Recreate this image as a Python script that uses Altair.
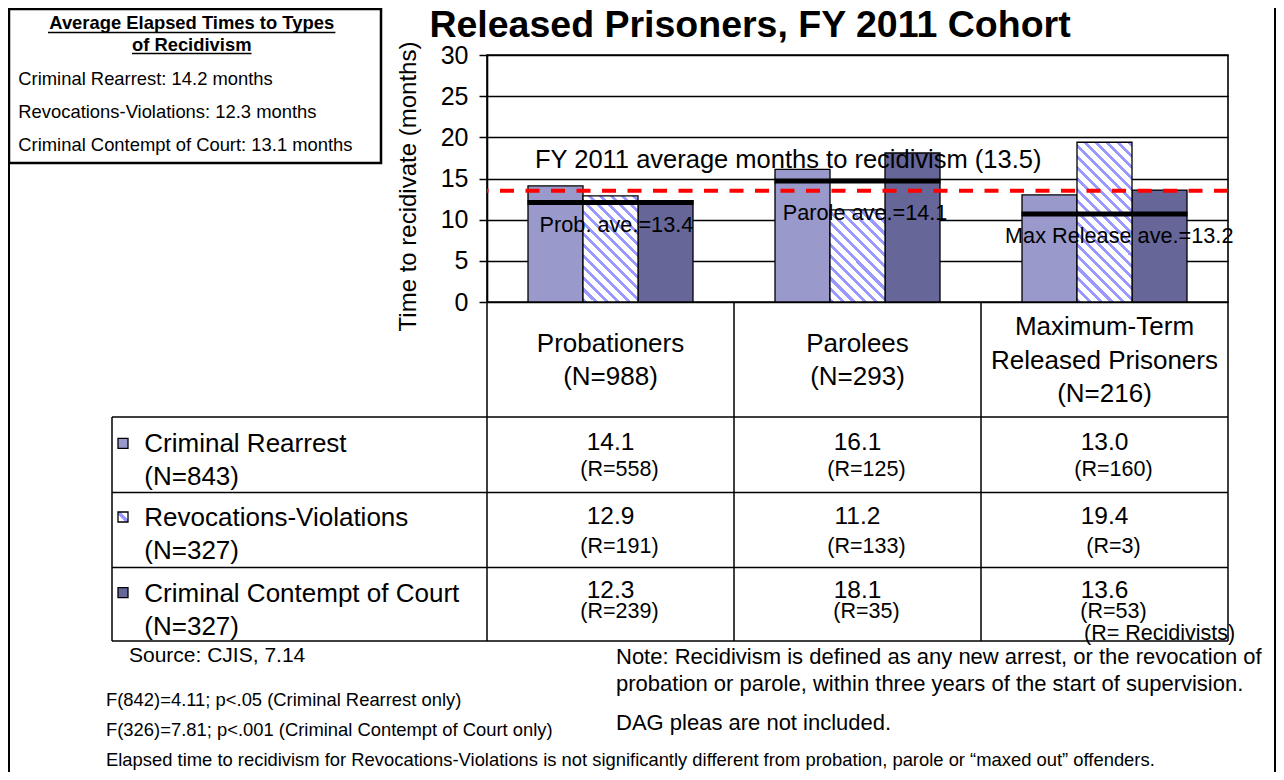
import math
import altair as alt
import pandas as pd

# ---------------- data ----------------
categories = ["Probationers", "Parolees", "Maximum-Term Released Prisoners"]
category_lines = [["Probationers", "(N=988)"],
                  ["Parolees", "(N=293)"],
                  ["Maximum-Term", "Released Prisoners", "(N=216)"]]
series = ["Criminal Rearrest", "Revocations-Violations", "Criminal Contempt of Court"]
series_n = ["(N=843)", "(N=327)", "(N=327)"]
rearrest = [14.1, 16.1, 13.0]
revocations = [12.9, 11.2, 19.4]
contempt = [12.3, 18.1, 13.6]
rearrest_r = ["(R=558)", "(R=125)", "(R=160)"]
revocations_r = ["(R=191)", "(R=133)", "(R=3)"]
contempt_r = ["(R=239)", "(R=35)", "(R=53)"]
ave_line_levels = [12.1, 14.7, 10.7]
ave_labels = ["Prob. ave.=13.4", "Parole ave.=14.1", "Max Release ave.=13.2"]
fy_average = 13.5
fy_label = "FY 2011 average months to recidivism (13.5)"
y_ticks = [0, 5, 10, 15, 20, 25, 30]
title_text = "Released Prisoners, FY 2011 Cohort"
y_title = "Time to recidivate (months)"
box_heading = ["Average Elapsed Times to Types", "of Recidivism"]
box_lines = ["Criminal Rearrest: 14.2 months",
             "Revocations-Violations: 12.3 months",
             "Criminal Contempt of Court: 13.1 months"]
source_text = "Source: CJIS, 7.14"
stat_notes = ["F(842)=4.11; p<.05 (Criminal Rearrest only)",
              "F(326)=7.81; p<.001 (Criminal Contempt of Court only)",
              "Elapsed time to recidivism for Revocations-Violations is not significantly different from probation, parole or \u201cmaxed out\u201d offenders."]
def_notes = ["Note: Recidivism is defined as any new arrest, or the revocation of",
             "probation or parole, within three years of the start of supervision.",
             "DAG pleas are not included."]
r_legend = "(R= Recidivists)"

values_by_series = [rearrest, revocations, contempt]
r_by_series = [rearrest_r, revocations_r, contempt_r]
rows = []
for si, s in enumerate(series):
    for ci, c in enumerate(categories):
        rows.append({"category": c, "series": s,
                     "value": values_by_series[si][ci], "r": r_by_series[si][ci]})
df = pd.DataFrame(rows)
ave_df = pd.DataFrame({"category": categories, "level": ave_line_levels})
fy_df = pd.DataFrame({"fy": [fy_average]})

# ---------------- style ----------------
FONT = "Liberation Sans, Arial, Helvetica, sans-serif"
W, H = 741, 247
YMAX = 30
C_LIGHT, C_DARK, C_HATCH = "#9999CC", "#666699", "#9999FF"
P_IN, P_OUT = 0.332, 0.166
STEP = W / 3
BAND = STEP * (1 - P_IN)
BAR_W = BAND / 3

x_scale = alt.Scale(domain=categories, paddingInner=P_IN, paddingOuter=P_OUT)
y_scale = alt.Scale(domain=[0, YMAX], nice=False, zero=True)
y_axis = alt.Axis(values=y_ticks, title=None, grid=True, gridColor="black",
                  gridWidth=1.5, gridOpacity=1, domain=True, domainColor="black",
                  domainWidth=1.6, ticks=True, tickColor="black", tickSize=8,
                  tickWidth=1.5, labelFont=FONT, labelFontSize=25,
                  labelColor="black", labelPadding=11, labelFlush=False,
                  labelOverlap=False)
x_enc = alt.X("category:N", sort=categories, scale=x_scale, axis=None)
xoff_enc = alt.XOffset("series:N", sort=series,
                       scale=alt.Scale(domain=series, paddingInner=0, paddingOuter=0))
one = alt.Data(values=[{}])


def txt(s, x, y, size, align="left", baseline="alphabetic", **kw):
    return alt.Chart(one).mark_text(text=s, font=FONT, fontSize=size, align=align,
                                    baseline=baseline, color="black", **kw).encode(
        x=alt.value(x), y=alt.value(y))


def rule(x1, y1, x2, y2, w=1.5):
    return alt.Chart(one).mark_rule(color="black", strokeWidth=w).encode(
        x=alt.value(x1), y=alt.value(y1), x2=alt.value(x2), y2=alt.value(y2))


def hatch_gradient(h_px, w_px, period=11.0, band=4.5):
    L = w_px + h_px
    a = L / (w_px ** 2 + h_px ** 2)
    stops = [{"offset": 0, "color": "#FFFFFF"}]
    k = 0
    while k * period < L:
        s = round(k * period / L, 5)
        e = round(min((k * period + band) / L, 1), 5)
        stops += [{"offset": s, "color": "#FFFFFF"}, {"offset": s, "color": C_HATCH},
                  {"offset": e, "color": C_HATCH}, {"offset": e, "color": "#FFFFFF"}]
        k += 1
    stops.append({"offset": 1, "color": "#FFFFFF"})
    return {"gradient": "linear", "x1": 0, "y1": 1,
            "x2": round(a * w_px, 5), "y2": round(1 - a * h_px, 5), "stops": stops}


layers = []

# outer frame and top-left box
layers.append(rule(-478, -47, -478, 717, 2))
layers.append(rule(788, -47, 788, 717, 2))
layers.append(alt.Chart(one).mark_rect(fill="white", stroke="black", strokeWidth=2.5).encode(
    x=alt.value(-478), x2=alt.value(-106), y=alt.value(-46), y2=alt.value(108)))
layers.append(txt(box_heading[0], -295.3, -25.7, 18.4, align="center", fontWeight="bold"))
layers.append(txt(box_heading[1], -295.3, -4, 18.4, align="center", fontWeight="bold"))
layers.append(rule(-439, -22.5, -151.6, -22.5, 1.5))
layers.append(rule(-355.1, -1.5, -235.5, -1.5, 1.5))
for i, line in enumerate(box_lines):
    layers.append(txt(line, -468.7, [29.5, 62.5, 96][i], 18.4))

# title and y title
layers.append(txt(title_text, 263, -18, 37.5, align="center", fontWeight="bold"))
layers.append(txt(y_title, -78, 131.5, 24, align="center", baseline="middle", angle=270))

# bars
layers.append(alt.Chart(df).transform_filter(alt.datum.series != series[1]).mark_bar(
    stroke="black", strokeWidth=1.3).encode(
    x=x_enc, xOffset=xoff_enc,
    y=alt.Y("value:Q", scale=y_scale, axis=y_axis),
    fill=alt.Fill("series:N", scale=alt.Scale(domain=series, range=[C_LIGHT, "#FFFFFF", C_DARK]),
                  legend=None)))
for ci, c in enumerate(categories):
    h_px = revocations[ci] * H / YMAX
    layers.append(alt.Chart(df).transform_filter(
        (alt.datum.series == series[1]) & (alt.datum.category == c)).mark_bar(
        stroke="black", strokeWidth=1.3, fill=hatch_gradient(h_px, BAR_W)).encode(
        x=x_enc, xOffset=xoff_enc,
        y=alt.Y("value:Q", scale=y_scale, axis=y_axis)))

# average lines
layers.append(alt.Chart(ave_df).mark_tick(color="black", opacity=1, thickness=5,
                                          size=BAND + 1).encode(
    x=x_enc, y=alt.Y("level:Q", scale=y_scale, axis=y_axis)))
layers.append(alt.Chart(fy_df).mark_rule(color="#FF0000", strokeWidth=4,
                                         strokeDash=[14, 11.5]).encode(
    y=alt.Y("fy:Q", scale=y_scale, axis=y_axis)))

# plot annotations
layers.append(txt(fy_label, 48, 112.7, 25.5))
layers.append(txt(ave_labels[0], 52.6, 176.7, 21.7))
layers.append(txt(ave_labels[1], 295.8, 165, 21.7))
layers.append(txt(ave_labels[2], 518, 188.3, 21.7))

# table: header row
HDR_FS, HDR_LH = 26, 33.5
for ci, c in enumerate(categories):
    n = len(category_lines[ci])
    y0 = 304.5 - (n - 1) * HDR_LH / 2 + 0.35 * HDR_FS
    layers.append(alt.Chart(pd.DataFrame({"category": [c]})).mark_text(
        text=category_lines[ci], font=FONT, fontSize=HDR_FS, lineHeight=HDR_LH,
        align="center", baseline="alphabetic", color="black").encode(
        x=x_enc, y=alt.value(y0)))

# table: rows
row_first_base = [397.3, 471, 546.7]
val_base = [395, 469, 543.3]
r_base = [421, 498, 563.3]
sq_fill = [C_LIGHT, {"gradient": "linear", "x1": 0, "y1": 1, "x2": 1, "y2": 0,
                     "stops": [{"offset": 0, "color": "#FFFFFF"}, {"offset": 0.38, "color": "#FFFFFF"},
                               {"offset": 0.38, "color": C_HATCH}, {"offset": 0.62, "color": C_HATCH},
                               {"offset": 0.62, "color": "#FFFFFF"}, {"offset": 1, "color": "#FFFFFF"}]},
           C_DARK]
for si, s in enumerate(series):
    layers.append(txt([s, series_n[si]], -342.7, row_first_base[si], 26, lineHeight=33))
    layers.append(alt.Chart(one).mark_square(size=100, fill=sq_fill[si], fillOpacity=1,
                                             stroke="black", strokeWidth=1.3).encode(
        x=alt.value(-364), y=alt.value(row_first_base[si] - 9)))
    sub = alt.Chart(df).transform_filter(alt.datum.series == s)
    layers.append(sub.mark_text(font=FONT, fontSize=24.5, color="black",
                                baseline="alphabetic").encode(
        x=x_enc, y=alt.value(val_base[si]), text=alt.Text("value:Q", format=".1f")))
    layers.append(sub.mark_text(font=FONT, fontSize=21.5, color="black",
                                baseline="alphabetic", dx=9).encode(
        x=x_enc, y=alt.value(r_base[si]), text="r:N"))

# table lines
for yy in [362, 437.5, 512.5, 586]:
    layers.append(rule(-375, yy, W, yy))
layers.append(rule(-375, 362, -375, 586))
for xx in [0, STEP, 2 * STEP, W]:
    layers.append(rule(xx, H, xx, 586))

# notes
layers.append(txt(r_legend, 597, 585, 21.5))
layers.append(txt(source_text, -358, 606.7, 21))
for i, line in enumerate(def_notes):
    layers.append(txt(line, 129, [609, 636, 675][i], 22))
for i, line in enumerate(stat_notes):
    layers.append(txt(line, -381, [650.5, 681, 711][i], 18.4))

chart = alt.layer(*layers).properties(
    width=W, height=H,
    padding={"left": 479, "top": 47, "right": 48, "bottom": 470},
    autosize=alt.AutoSizeParams(type="none"),
).configure_view(stroke="black", strokeWidth=1.6)

chart.save("out.html", embed_options={"renderer": "svg", "actions": False})
